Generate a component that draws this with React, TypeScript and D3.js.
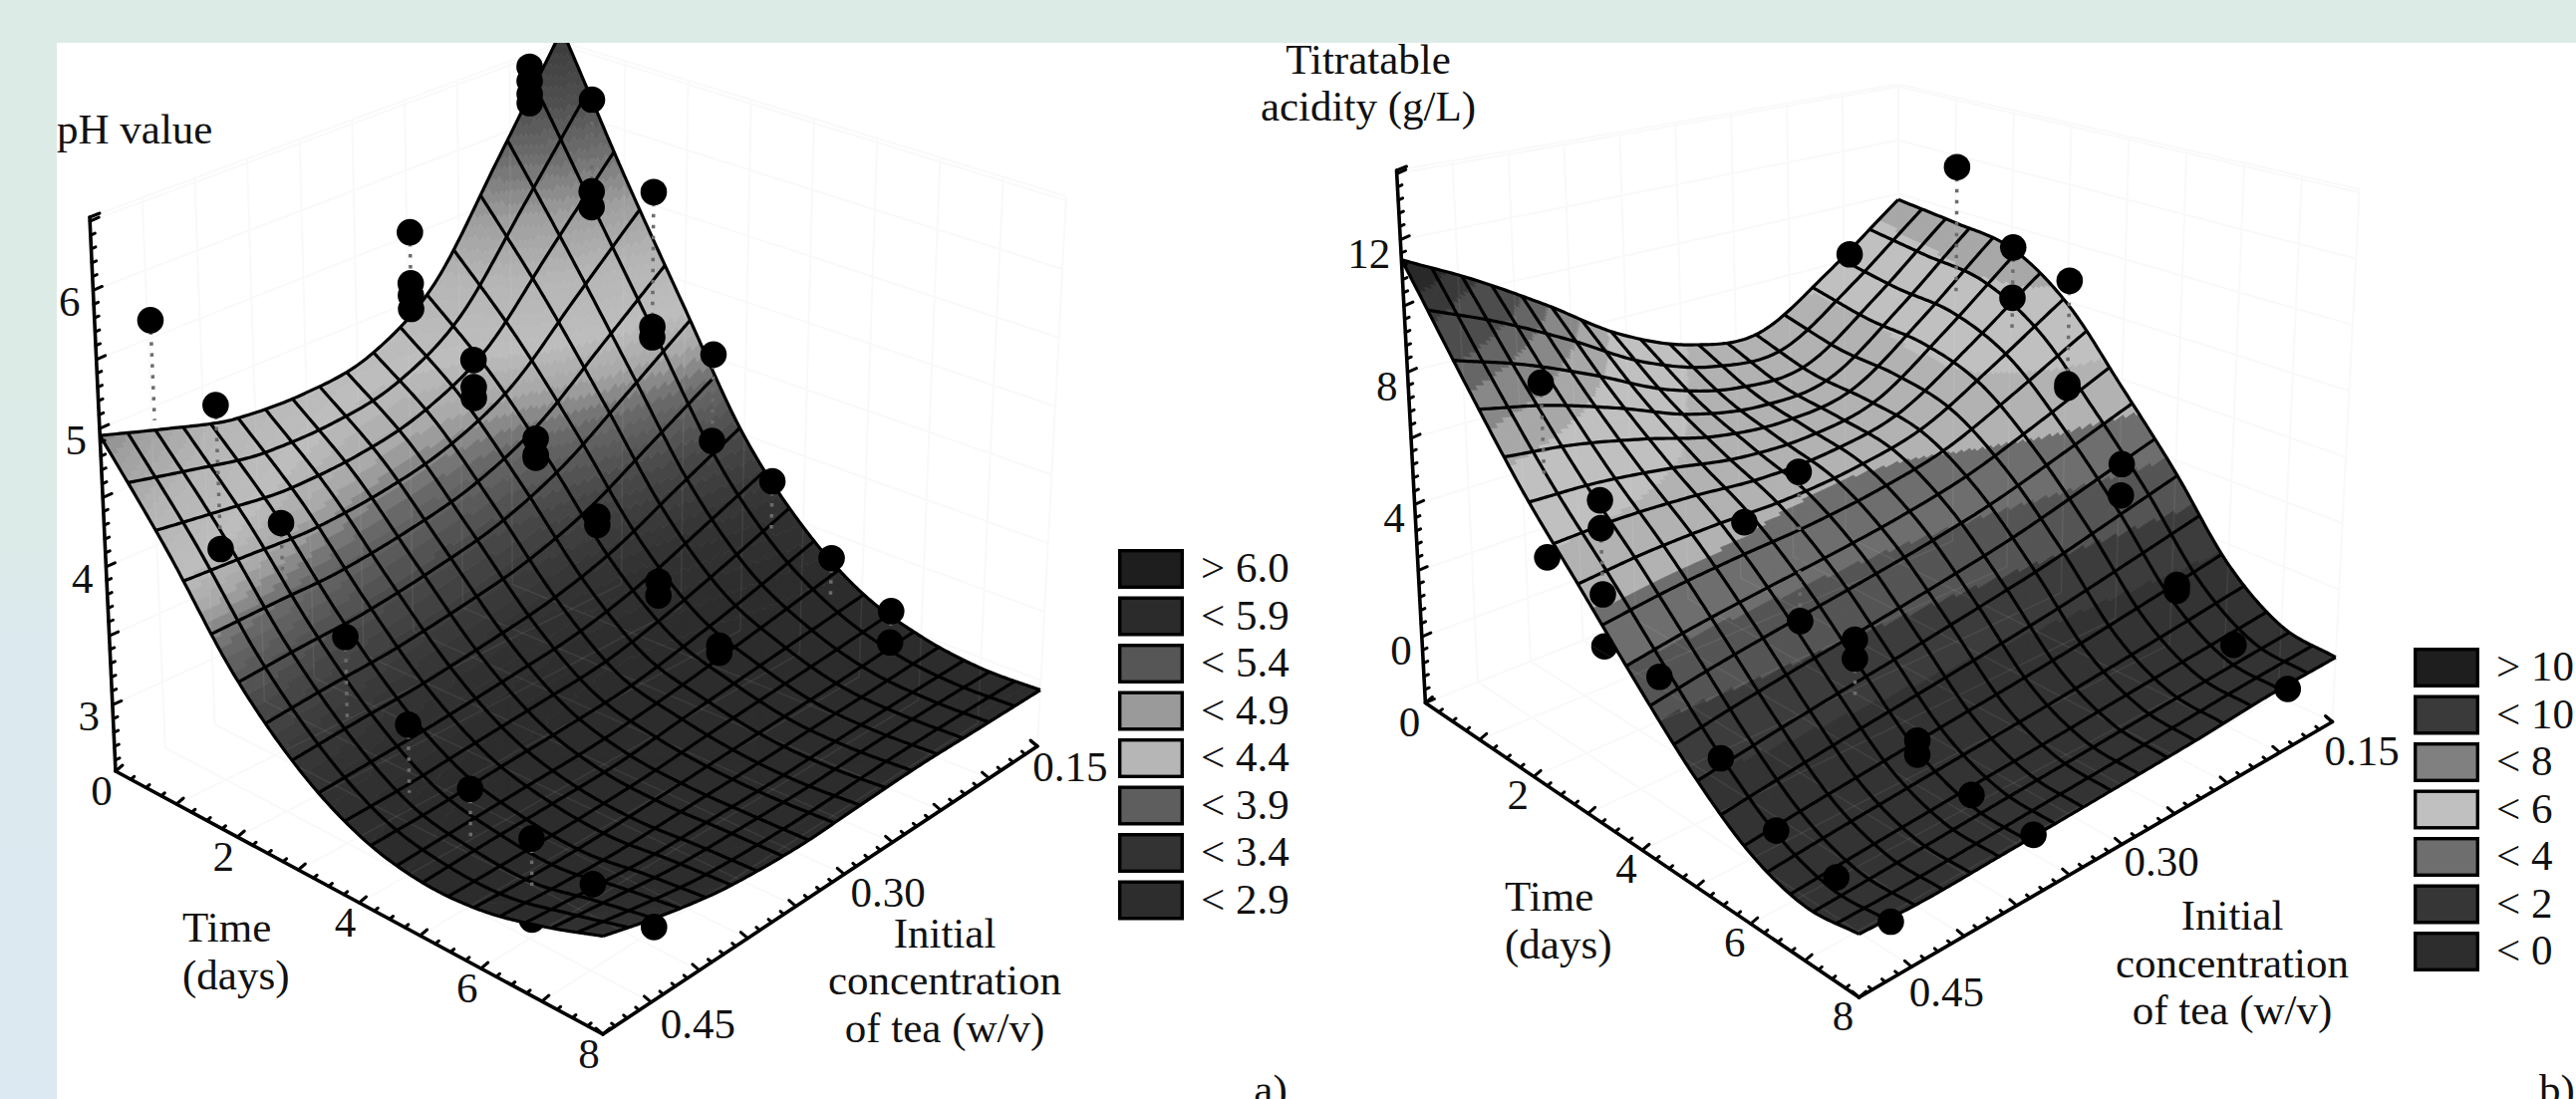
import React from "react";
import * as d3 from "d3";

// ---------- data ----------
const timeStops = [0, 1, 2, 3, 4, 5, 6, 7, 8];

const phConc = [0.49, 0.44, 0.39, 0.33, 0.28, 0.23, 0.18, 0.13];
const phSurface = [
  [4.95, 4.7, 4.46, 4.3, 4.27, 4.49, 5.12, 5.81],
  [4.35, 4.21, 4.07, 3.99, 4.0, 4.15, 4.55, 4.96],
  [3.7, 3.65, 3.59, 3.57, 3.59, 3.71, 3.95, 4.21],
  [3.26, 3.23, 3.19, 3.17, 3.17, 3.23, 3.37, 3.51],
  [3.0, 2.96, 2.94, 2.91, 2.89, 2.93, 3.0, 3.09],
  [2.9, 2.88, 2.85, 2.82, 2.83, 2.84, 2.85, 2.86],
  [2.92, 2.87, 2.84, 2.83, 2.82, 2.81, 2.8, 2.8],
  [3.03, 2.97, 2.91, 2.88, 2.86, 2.86, 2.85, 2.83],
  [3.18, 3.06, 2.97, 2.93, 2.94, 2.95, 2.94, 2.93],
];
const phDotsFront = [
  [0, 0.448, 5.54], [1, 0.448, 5.14], [2, 0.448, 4.51], [3, 0.448, 3.92], [4, 0.448, 3.525],
  [5, 0.448, 3.3], [6, 0.448, 3.18], [7, 0.448, 3.09], [8, 0.448, 3.02], [1, 0.448, 4.1],
  [1, 0.296, 5.52], [1, 0.296, 5.14], [1, 0.296, 5.05], [1, 0.296, 4.95],
  [2, 0.296, 4.81], [2, 0.296, 4.61], [2, 0.296, 4.53],
  [3, 0.296, 4.47], [3, 0.296, 4.35], [3, 0.296, 4.33],
  [4, 0.296, 4.14], [4, 0.296, 4.08], [5, 0.296, 3.91], [5, 0.296, 3.81], [6, 0.296, 3.69], [6, 0.296, 3.64],
  [0, 0.155, 5.68], [0, 0.155, 5.57], [0, 0.155, 5.47], [0, 0.155, 5.4],
  [1, 0.155, 5.68], [1, 0.155, 4.98], [1, 0.155, 4.86],
  [2, 0.155, 5.23], [2, 0.155, 4.21], [2, 0.155, 4.13],
  [3, 0.155, 4.26], [3, 0.155, 3.61], [4, 0.155, 3.57], [5, 0.155, 3.26], [6, 0.155, 3.13], [6, 0.155, 2.9],
];
const phDotsBehind = [[6, 0.448, 2.62]];
// time, concentration, value at the dot, value where the dotted stem ends
const phStems = [
  [0, 0.448, 5.54, 4.81], [1, 0.448, 5.14, 4.1], [2, 0.448, 4.51, 4.13], [3, 0.448, 3.92, 3.31],
  [4, 0.448, 3.525, 3.045], [5, 0.448, 3.3, 2.93], [6, 0.448, 3.18, 2.82],
  [1, 0.296, 5.52, 4.95], [2, 0.296, 4.81, 4.53], [3, 0.296, 4.47, 4.33], [5, 0.296, 3.91, 3.81],
  [1, 0.155, 5.68, 4.86], [2, 0.155, 5.23, 4.13], [3, 0.155, 4.26, 3.61],
  [4, 0.155, 3.57, 3.2], [5, 0.155, 3.26, 2.95], [6, 0.155, 3.13, 2.9],
];
const phLegendLabels = ["> 6.0", "< 5.9", "< 5.4", "< 4.9", "< 4.4", "< 3.9", "< 3.4", "< 2.9"];
const phLegendColors = ["#1e1e1e", "#2b2b2b", "#565656", "#9a9a9a", "#b6b6b6", "#5e5e5e", "#333333", "#2d2d2d"];
const phColorStops = [2.9, 3.2, 3.5, 3.8, 4.0, 4.2, 4.5, 4.8, 5.1, 5.4, 5.9, 6.2];
const phColorRamp = ["#2c2c2c", "#333333", "#474747", "#6a6a6a", "#a8a8a8", "#bdbdbd", "#b5b5b5", "#9f9f9f", "#707070", "#4f4f4f", "#333333", "#252525"];

const taConc = [0.474, 0.423, 0.371, 0.32, 0.268, 0.217, 0.165, 0.114];
const taSurface = [
  [11.4, 10.05, 8.4, 6.55, 5.15, 4.5, 5.65, 7.3],
  [8.7, 7.84, 6.69, 5.38, 4.47, 4.24, 5.61, 7.45],
  [6.3, 5.94, 5.36, 4.65, 4.25, 4.38, 5.76, 7.5],
  [4.4, 4.4, 4.27, 4.06, 4.04, 4.31, 5.3, 6.5],
  [2.6, 2.78, 2.9, 3.0, 3.15, 3.43, 3.97, 4.6],
  [1.04, 1.23, 1.4, 1.55, 1.75, 1.98, 2.35, 2.75],
  [-0.08, 0.03, 0.12, 0.21, 0.3, 0.43, 0.6, 0.8],
  [-0.55, -0.49, -0.43, -0.37, -0.31, -0.24, -0.18, -0.12],
  [-0.35, -0.42, -0.38, -0.33, -0.27, -0.2, -0.08, -0.05],
];
const taDotsFront = [
  [1.8, 0.45, 8.91], [2.8, 0.45, 6.35], [2.8, 0.45, 5.54], [2.8, 0.45, 3.62], [3.8, 0.45, 2.21],
  [4.9, 0.45, 0.98], [5.9, 0.45, -0.05], [7, 0.45, -0.26], [8, 0.45, -0.49],
  [2, 0.312, 2.26], [3, 0.312, 4.87], [3, 0.312, 0.2], [4, 0.312, 0.69], [4, 0.312, 0.11],
  [5, 0.306, -1.43], [5, 0.306, -1.85], [6, 0.306, -1.97], [7, 0.3, -2.2],
  [0, 0.15, 5.95], [1.9, 0.15, 11.03], [2.9, 0.15, 9.06], [2.9, 0.15, 7.31], [3.9, 0.15, 8.8],
  [3.9, 0.15, 5.2], [3.9, 0.15, 5.32], [4.9, 0.15, 3.66], [4.9, 0.15, 2.64], [5.95, 0.15, 0.86], [5.95, 0.15, 0.68],
  [7, 0.15, 0.1], [8, 0.15, -0.2],
];
const taDotsBehind = [[1.8, 0.45, 3.74], [2.8, 0.45, 2.11]];
const taStems = [
  [1.9, 0.15, 11.03, 6.45], [2.9, 0.15, 9.06, 6.22], [3.9, 0.15, 8.8, 5.2],
  [1.8, 0.45, 8.91, 6.12], [2.8, 0.45, 5.54, 3.62], [3, 0.312, 4.87, 0.2],
  [4, 0.312, 0.11, -1.03], [4.9, 0.15, 3.66, 2.64],
];
const taLegendLabels = ["> 10", "< 10", "< 8", "< 6", "< 4", "< 2", "< 0"];
const taLegendColors = ["#1e1e1e", "#3a3a3a", "#808080", "#c0c0c0", "#6e6e6e", "#363636", "#2d2d2d"];
const taBandEdges = [1, 2, 3, 4, 5.2, 6.8, 7.6, 8.4, 9, 10, 10.6];
const taBandColors = ["#333333", "#3c3c3c", "#555555", "#6e6e6e", "#b2b2b2", "#c0c0c0", "#a8a8a8", "#888888", "#666666", "#4d4d4d", "#3a3a3a", "#2a2a2a"];

// ---------- layout ----------
const W = 2585, H = 1103;
const FONT = "'Liberation Serif', 'Times New Roman', serif";
const FS = 43;
const INK = "#000";
const BAND_TOP = 43, BAND_LEFT = 57;
const CELLS_T = 19, CELLS_C = 17, SUB = 10;

type XY = [number, number];
type Box = { A: XY; B: XY; C: XY; D: XY; At: XY; Bt: XY; Ct: XY; Dt: XY };

const boxA: Box = {
  A: [116, 774], B: [605, 1038], C: [1041, 749], D: [564, 457.5],
  At: [90, 218], Bt: [605, 440], Ct: [1070, 197], Dt: [564, -63.5],
};
const wallA: Box = { ...boxA, D: [564, 563], Dt: [564, 42] };
const boxB: Box = {
  A: [1430.4, 705.5], B: [1865.6, 1001], C: [2340.5, 724.5], D: [1905, 436],
  At: [1401.5, 171], Bt: [1865.6, 382], Ct: [2367.8, 190], Dt: [1905, 28],
};
const wallB: Box = { ...boxB, D: [1905, 517], Dt: [1905, 84.4] };

function makeProjector(box: Box, cDomain: [number, number], zDomain: [number, number]) {
  const us = d3.scaleLinear().domain([0, 8]).range([0, 1]);
  const vs = d3.scaleLinear().domain([cDomain[1], cDomain[0]]).range([0, 1]);
  const ws = d3.scaleLinear().domain(zDomain).range([0, 1]);
  const bil = (a: XY, b: XY, c: XY, d: XY, u: number, v: number): XY => [
    a[0] * (1 - u) * (1 - v) + b[0] * u * (1 - v) + c[0] * u * v + d[0] * (1 - u) * v,
    a[1] * (1 - u) * (1 - v) + b[1] * u * (1 - v) + c[1] * u * v + d[1] * (1 - u) * v,
  ];
  return (t: number, c: number, z: number): XY => {
    const u = us(t), v = vs(c), w = ws(z);
    const g = bil(box.A, box.B, box.C, box.D, u, v);
    const h = bil(box.At, box.Bt, box.Ct, box.Dt, u, v);
    return [g[0] + (h[0] - g[0]) * w, g[1] + (h[1] - g[1]) * w];
  };
}

function catmull(p: number[], x: number) {
  const n = p.length;
  const i = Math.max(0, Math.min(n - 2, Math.floor(x)));
  const f = x - i;
  const p1 = p[i], p2 = p[i + 1];
  const p0 = i > 0 ? p[i - 1] : 2 * p1 - p2;
  const p3 = i < n - 2 ? p[i + 2] : 2 * p2 - p1;
  return 0.5 * (2 * p1 + (p2 - p0) * f + (2 * p0 - 5 * p1 + 4 * p2 - p3) * f * f + (3 * p1 - p0 - 3 * p2 + p3) * f * f * f);
}

function makeSampler(table: number[][], concs: number[]) {
  const ci = d3.scaleLinear().domain(concs).range(concs.map((_, i) => i));
  const ti = d3.scaleLinear().domain(timeStops).range(timeStops.map((_, i) => i));
  return (t: number, c: number) => {
    const col = ci(c);
    const vals = table.map((row) => catmull(row, col));
    return catmull(vals, ti(t));
  };
}

type PanelProps = {
  box: Box;
  wall: Box;
  cDomain: [number, number];
  zDomain: [number, number];
  table: number[][];
  concs: number[];
  colorOf: (z: number) => string;
  front: number[][];
  behind: number[][];
  stems: number[][];
  zMajor: number;
  zMinor: number;
  zLabels: number[];
  zWall: number;
  zLabelDx: number;
  zLabelDy: number;
  timeLabelOffset: XY;
  concLabels: { c: number; text: string; dx: number; dy: number }[];
  legendLabels: string[];
  legendColors: string[];
  legendX: number;
  legendY: number;
};

function Panel(p: PanelProps) {
  const project = makeProjector(p.box, p.cDomain, p.zDomain);
  const wallProject = makeProjector(p.wall, p.cDomain, p.zDomain);
  const sample = makeSampler(p.table, p.concs);
  const [cMin, cMax] = p.cDomain;
  const [zLo, zHi] = p.zDomain;

  // surface facets, grouped by fill
  const nT = CELLS_T * SUB, nC = CELLS_C * SUB;
  const tScale = d3.scaleLinear().domain([0, nT]).range([0, 8]);
  const cScale = d3.scaleLinear().domain([0, nC]).range([cMax, cMin]);
  const zg: number[][] = d3.range(nC + 1).map((i) => d3.range(nT + 1).map((j) => sample(tScale(j), cScale(i))));
  const xy: XY[][] = zg.map((row, i) => row.map((z, j) => project(tScale(j), cScale(i), z)));
  const groups = new Map<string, string[]>();
  for (let i = nC - 1; i >= 0; i--) {
    for (let j = 0; j < nT; j++) {
      const m = (zg[i][j] + zg[i + 1][j] + zg[i][j + 1] + zg[i + 1][j + 1]) / 4;
      const col = p.colorOf(m);
      const a = xy[i][j], b = xy[i][j + 1], c = xy[i + 1][j + 1], d = xy[i + 1][j];
      const s = `M${a[0].toFixed(1)},${a[1].toFixed(1)}L${b[0].toFixed(1)},${b[1].toFixed(1)}L${c[0].toFixed(1)},${c[1].toFixed(1)}L${d[0].toFixed(1)},${d[1].toFixed(1)}Z`;
      if (!groups.has(col)) groups.set(col, []);
      (groups.get(col) as string[]).push(s);
    }
  }

  // mesh
  const line = d3.line();
  const meshPaths: string[] = [];
  for (let i = 0; i <= CELLS_C; i++) meshPaths.push(line(xy[i * SUB]) as string);
  for (let j = 0; j <= CELLS_T; j++) meshPaths.push(line(xy.map((row) => row[j * SUB])) as string);

  // walls
  const wallLines: string[] = [];
  const cGrid = d3.range(cMin + 0.04, cMax, 0.04);
  const tGrid = d3.range(1, 8, 1);
  const zGrid = d3.range(Math.ceil(zLo / p.zWall) * p.zWall, zHi + 1e-6, p.zWall);
  const seg = (a: XY, b: XY) => line([a, b]) as string;
  cGrid.forEach((c) => {
    wallLines.push(seg(wallProject(0, c, zLo), wallProject(0, c, zHi)));
    wallLines.push(seg(wallProject(0, c, zLo), wallProject(8, c, zLo)));
  });
  tGrid.forEach((t) => {
    wallLines.push(seg(wallProject(t, cMin, zLo), wallProject(t, cMin, zHi)));
    wallLines.push(seg(wallProject(t, cMin, zLo), wallProject(t, cMax, zLo)));
  });
  const ghostCount = wallLines.length;
  zGrid.forEach((z) => {
    wallLines.push(seg(wallProject(0, cMax, z), wallProject(0, cMin, z)));
    wallLines.push(seg(wallProject(0, cMin, z), wallProject(8, cMin, z)));
  });
  wallLines.push(seg(wallProject(0, cMax, zHi), wallProject(0, cMin, zHi)));
  wallLines.push(seg(wallProject(0, cMin, zHi), wallProject(8, cMin, zHi)));
  wallLines.push(seg(wallProject(8, cMin, zLo), wallProject(8, cMin, zHi)));
  wallLines.push(seg(wallProject(0, cMin, zLo), wallProject(0, cMin, zHi)));

  // axes
  const axisPaths: string[] = [
    seg(project(0, cMax, zLo), project(0, cMax, zHi)),
    seg(project(0, cMax, zLo), project(8, cMax, zLo)),
    seg(project(8, cMax, zLo), project(8, cMin, zLo)),
  ];
  const tickPaths: string[] = [];
  const tick = (o: XY, d: XY, k: number) => tickPaths.push(seg(o, [o[0] + d[0] * k, o[1] + d[1] * k]));
  d3.range(0, 8.001, 0.25).forEach((t) => {
    tick(project(t, cMax, zLo), [7, -6], Math.abs(t - Math.round(t)) < 1e-6 ? 1 : 0.5);
  });
  d3.range(0, (cMax - cMin) / 0.01 + 0.001).forEach((n) => {
    const c = cMax - n * 0.01;
    tick(project(8, c, zLo), [-7, -6], n % 4 === 0 ? 1 : 0.5);
  });
  const zFirst = Math.ceil(zLo / p.zMinor) * p.zMinor;
  d3.range(zFirst, zHi + 1e-6, p.zMinor).forEach((z) => {
    const major = Math.abs(z / p.zMajor - Math.round(z / p.zMajor)) < 1e-6;
    tick(project(0, cMax, z), [9, -4], major ? 1 : 0.5);
  });
  tick(project(0, cMax, zHi), [10, -4], 1);
  tick(project(8, cMin, zLo), [-6, -5], 1);

  // drop lines
  const dropPaths = p.stems.map(([t, c, z0, z1]) => seg(project(t, c, z0), project(t, c, z1)));

  const Dot = (d: number[], i: number) => {
    const [x, y] = project(d[0], d[1], d[2]);
    return <circle key={i} cx={x} cy={y} r={13.3} fill={INK} />;
  };

  return (
    <g>
      <g fill="none" stroke="#f9f9f9" strokeWidth={2}>
        {wallLines.map((d, i) => <path key={i} d={d} />)}
      </g>
      {p.behind.map(Dot)}
      <g>
        {Array.from(groups.entries()).map(([col, d]) => (
          <path key={col} d={d.join("")} fill={col} stroke={col} strokeWidth={0.7} />
        ))}
      </g>
      <g fill="none" stroke="#ffffff" strokeOpacity={0.07} strokeWidth={1.5}>
        {wallLines.slice(0, ghostCount).map((d, i) => <path key={i} d={d} />)}
      </g>
      <g fill="none" stroke="#000" strokeWidth={3.2} strokeLinejoin="round">
        {meshPaths.map((d, i) => <path key={i} d={d} />)}
      </g>
      <g fill="none" stroke="#6c6c6c" strokeWidth={3.5} strokeDasharray="3.5 7.5">
        {dropPaths.map((d, i) => <path key={i} d={d} />)}
      </g>
      {p.front.map(Dot)}
      <g fill="none" stroke="#000" strokeWidth={3.6} strokeLinecap="round">
        {axisPaths.map((d, i) => <path key={i} d={d} />)}
      </g>
      <g fill="none" stroke="#000" strokeWidth={3} strokeLinecap="round">
        {tickPaths.map((d, i) => <path key={i} d={d} />)}
      </g>
      <g fontFamily={FONT} fontSize={FS} fill="#111">
        {timeStops.filter((t) => t % 2 === 0).map((t) => {
          const [x, y] = project(t, cMax, zLo);
          return <text key={t} x={x + p.timeLabelOffset[0]} y={y + p.timeLabelOffset[1]} textAnchor="middle">{t}</text>;
        })}
        {p.zLabels.map((z) => {
          const [x, y] = project(0, cMax, z);
          return <text key={z} x={x + p.zLabelDx} y={y + p.zLabelDy} textAnchor="end">{z}</text>;
        })}
        {p.concLabels.map((l) => {
          const [x, y] = project(8, l.c, zLo);
          return <text key={l.text} x={x + l.dx} y={y + l.dy} textAnchor="middle">{l.text}</text>;
        })}
        {p.legendLabels.map((l, i) => (
          <text key={l} x={p.legendX + 83} y={p.legendY + i * 47.5 + 33}>{l}</text>
        ))}
      </g>
      <g stroke="#000" strokeWidth={3.4}>
        {p.legendColors.map((c, i) => (
          <rect key={i} x={p.legendX + 1.7} y={p.legendY + i * 47.5 + 1.7} width={62.6} height={36.6} fill={c} />
        ))}
      </g>
    </g>
  );
}

export default function App() {
  const phColor = d3.scaleLinear<string>().domain(phColorStops).range(phColorRamp).clamp(true);
  const colorA = (z: number) => phColor(Math.round(z / 0.06) * 0.06);
  const colorB = d3.scaleThreshold<number, string>().domain(taBandEdges).range(taBandColors);
  return (
    <svg width={W} height={H} viewBox={`0 0 ${W} ${H}`} style={{ position: "absolute", left: 0, top: 0, display: "block" }}>
      <defs>
        <linearGradient id="leftBand" x1="0" y1="0" x2="0" y2="1">
          <stop offset="0" stopColor="#dcebe5" />
          <stop offset="0.46" stopColor="#dcebe7" />
          <stop offset="0.56" stopColor="#dce9ee" />
          <stop offset="1" stopColor="#dce9f2" />
        </linearGradient>
      </defs>
      <rect width={W} height={H} fill="#ffffff" />
      <Panel
        box={boxA} wall={wallA} cDomain={[0.13, 0.49]} zDomain={[2.52, 6.53]}
        table={phSurface} concs={phConc} colorOf={colorA}
        front={phDotsFront} behind={phDotsBehind} stems={phStems}
        zMajor={0.5} zMinor={0.1} zLabels={[3, 4, 5, 6]} zWall={0.5} zLabelDx={-13} zLabelDy={26}
        timeLabelOffset={[-14, 34]}
        concLabels={[
          { c: 0.15, text: "0.15", dx: 57, dy: 19 },
          { c: 0.3, text: "0.30", dx: 56, dy: 25 },
          { c: 0.45, text: "0.45", dx: 47, dy: 36 },
        ]}
        legendLabels={phLegendLabels} legendColors={phLegendColors} legendX={1122} legendY={551}
      />
      <Panel
        box={boxB} wall={wallB} cDomain={[0.114, 0.474]} zDomain={[-2, 14.1]}
        table={taSurface} concs={taConc} colorOf={(z) => colorB(z) as string}
        front={taDotsFront} behind={taDotsBehind} stems={taStems}
        zMajor={2} zMinor={0.4} zLabels={[0, 4, 8, 12]} zWall={2} zLabelDx={-10} zLabelDy={28}
        timeLabelOffset={[-16, 33]}
        concLabels={[
          { c: 0.15, text: "0.15", dx: 77, dy: 16 },
          { c: 0.3, text: "0.30", dx: 74, dy: 12 },
          { c: 0.45, text: "0.45", dx: 56, dy: 27 },
        ]}
        legendLabels={taLegendLabels} legendColors={taLegendColors} legendX={2422} legendY={650}
      />
      <rect x={0} y={0} width={W} height={BAND_TOP} fill="#dcebe5" />
      <rect x={0} y={BAND_TOP} width={BAND_LEFT} height={H - BAND_TOP} fill="url(#leftBand)" />
      <g fontFamily={FONT} fontSize={FS} fill="#111">
        <text x={BAND_LEFT} y={144}>pH value</text>
        <text x={1373} y={74} textAnchor="middle">Titratable</text>
        <text x={1373} y={121} textAnchor="middle">acidity (g/L)</text>
        <text x={183} y={945}>Time</text>
        <text x={183} y={993}>(days)</text>
        <text x={1510} y={914}>Time</text>
        <text x={1510} y={962}>(days)</text>
        <text x={948} y={951} textAnchor="middle">Initial</text>
        <text x={948} y={998} textAnchor="middle">concentration</text>
        <text x={948} y={1046} textAnchor="middle">of tea (w/v)</text>
        <text x={2240} y={933} textAnchor="middle">Initial</text>
        <text x={2240} y={981} textAnchor="middle">concentration</text>
        <text x={2240} y={1028} textAnchor="middle">of tea (w/v)</text>
        <text x={1275} y={1108} textAnchor="middle">a)</text>
        <text x={2566} y={1108} textAnchor="middle">b)</text>
      </g>
    </svg>
  );
}
